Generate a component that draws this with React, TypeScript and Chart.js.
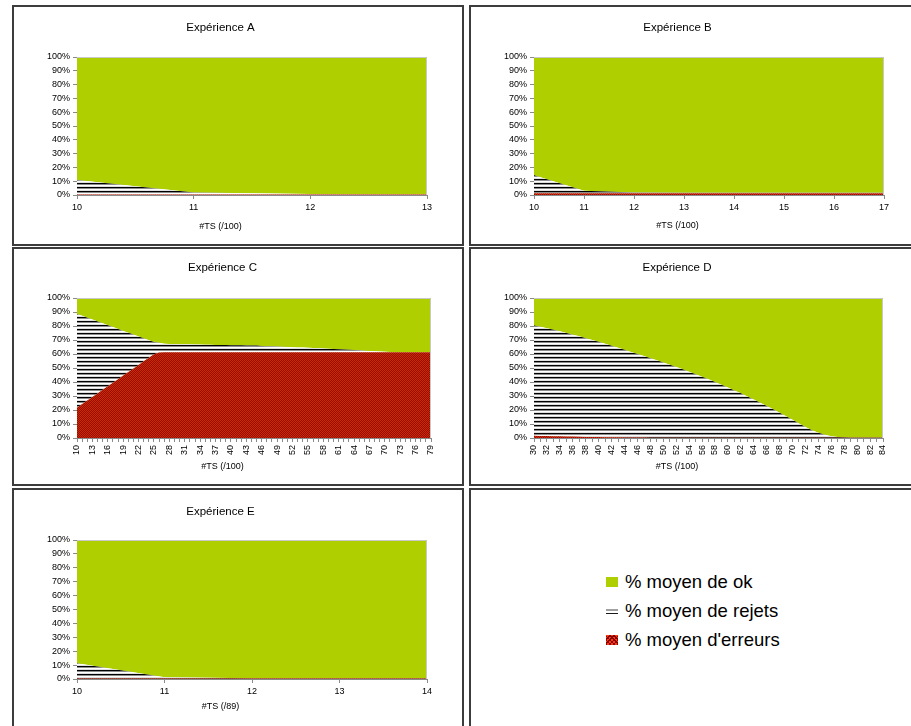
import React, { useEffect, useRef } from 'react';
import { Chart, registerables } from 'chart.js';

Chart.register(...registerables);

const FONT = '"Liberation Sans", Arial, Helvetica, sans-serif';
const OK_COLOR = '#afcf00';
const AXIS_GREY = '#8a8a8a';

const seriesLabels = ['% moyen de ok', '% moyen de rejets', "% moyen d'erreurs"];

// ---- Expérience A ----
const catsA = [10, 11, 12, 13];
const rejetsA = [10.5, 1.5, 0.4, 0.2];
const erreursA = [0.3, 0.3, 0.3, 0.3];

// ---- Expérience B ----
const catsB = [10, 11, 12, 13, 14, 15, 16, 17];
const rejetsB = [13.0, 1.8, 0.6, 0.4, 0.4, 0.4, 0.4, 0.4];
const erreursB = [1.3, 1.3, 1.3, 1.3, 1.3, 1.3, 1.3, 1.3];

// ---- Expérience C ----
const catsC = [
  10, 11, 12, 13, 14, 15, 16, 17, 18, 19,
  20, 21, 22, 23, 24, 25, 26, 27, 28, 29,
  30, 31, 32, 33, 34, 35, 36, 37, 38, 39,
  40, 41, 42, 43, 44, 45, 46, 47, 48, 49,
  50, 51, 52, 53, 54, 55, 56, 57, 58, 59,
  60, 61, 62, 63, 64, 65, 66, 67, 68, 69,
  70, 71, 72, 73, 74, 75, 76, 77, 78, 79,
];
const rejetsC = [
  67.0, 63.1, 59.2, 55.3, 51.4, 47.5, 43.7, 39.7, 35.9, 31.9,
  28.1, 24.2, 20.3, 16.4, 12.5, 8.8, 7.0, 6.1, 5.9, 5.8,
  5.7, 5.6, 5.6, 5.5, 5.4, 5.3, 5.3, 5.2, 5.1, 5.1,
  5.0, 4.9, 4.9, 4.8, 4.7, 4.7, 4.5, 4.3, 4.2, 4.0,
  3.9, 3.7, 3.6, 3.4, 3.3, 3.2, 3.0, 2.9, 2.7, 2.5,
  2.3, 2.1, 1.9, 1.7, 1.5, 1.3, 1.1, 0.9, 0.7, 0.5,
  0.3, 0.1, 0, 0, 0, 0, 0, 0, 0, 0,
];
const erreursC = [
  21.6, 24.2, 26.7, 29.3, 31.8, 34.4, 36.9, 39.5, 42.0, 44.6,
  47.1, 49.7, 52.2, 54.8, 57.3, 59.8, 61.0, 61.3, 61.3, 61.3,
  61.3, 61.3, 61.3, 61.3, 61.3, 61.3, 61.3, 61.3, 61.3, 61.3,
  61.3, 61.3, 61.3, 61.3, 61.3, 61.3, 61.3, 61.3, 61.3, 61.3,
  61.3, 61.3, 61.3, 61.3, 61.3, 61.3, 61.3, 61.3, 61.3, 61.3,
  61.3, 61.3, 61.3, 61.3, 61.3, 61.3, 61.3, 61.3, 61.3, 61.3,
  61.3, 61.3, 61.3, 61.3, 61.3, 61.3, 61.3, 61.3, 61.3, 61.3,
];

// ---- Expérience D ----
const catsD = [
  30, 31, 32, 33, 34, 35, 36, 37, 38, 39,
  40, 41, 42, 43, 44, 45, 46, 47, 48, 49,
  50, 51, 52, 53, 54, 55, 56, 57, 58, 59,
  60, 61, 62, 63, 64, 65, 66, 67, 68, 69,
  70, 71, 72, 73, 74, 75, 76, 77, 78, 79,
  80, 81, 82, 83, 84,
];
const rejetsD = [
  78.7, 77.9, 77.0, 76.0, 75.0, 73.9, 72.8, 71.7, 70.5, 69.2,
  68.0, 66.7, 65.4, 64.0, 62.6, 61.1, 59.7, 58.2, 56.8, 55.3,
  53.8, 52.2, 50.6, 48.9, 47.2, 45.4, 43.6, 41.7, 39.8, 37.8,
  35.8, 33.8, 31.7, 29.5, 27.3, 25.0, 22.7, 20.3, 17.9, 15.4,
  12.8, 10.2, 7.7, 5.4, 3.5, 2.1, 1.1, 0.6, 0.3, 0.2,
  0.1, 0.1, 0.1, 0.1, 0.1,
];
const erreursD = [
  1.6, 1.5, 1.4, 1.3, 1.2, 1.1, 1.0, 0.9, 0.8, 0.8,
  0.7, 0.6, 0.5, 0.5, 0.4, 0.4, 0.3, 0.3, 0.2, 0.2,
  0.2, 0.2, 0.2, 0.2, 0.2, 0.2, 0.2, 0.2, 0.2, 0.2,
  0.2, 0.2, 0.2, 0.2, 0.2, 0.2, 0.2, 0.2, 0.2, 0.2,
  0.2, 0.2, 0.2, 0.2, 0.2, 0.2, 0.2, 0.2, 0.2, 0.2,
  0.2, 0.2, 0.2, 0.2, 0.2,
];

// ---- Expérience E ----
const catsE = [10, 11, 12, 13, 14];
const rejetsE = [11.0, 1.0, 0.3, 0.2, 0.2];
const erreursE = [0.3, 0.3, 0.3, 0.3, 0.3];

const yTicks = [0, 10, 20, 30, 40, 50, 60, 70, 80, 90, 100];

type Spec = {
  title: string;
  axisTitle: string;
  cats: number[];
  rejets: number[];
  erreurs: number[];
  labelStep: number;
  rotate: number;
  box: { left: number; top: number; width: number; height: number };
  plotLeft: number;
  plotRight: number;
  plotTop: number;
  plotBottom: number;
  titleY: number;
  axisTitleY: number;
};

const BORDER = 2;

const specs: Spec[] = [
  {
    title: 'Expérience A', axisTitle: '#TS (/100)', cats: catsA, rejets: rejetsA, erreurs: erreursA,
    labelStep: 1, rotate: 0, box: { left: 12, top: 5, width: 452, height: 241 },
    plotLeft: 63, plotRight: 413, plotTop: 50, plotBottom: 188, titleY: 20.5, axisTitleY: 220,
  },
  {
    title: 'Expérience B', axisTitle: '#TS (/100)', cats: catsB, rejets: rejetsB, erreurs: erreursB,
    labelStep: 1, rotate: 0, box: { left: 469, top: 5, width: 452, height: 241 },
    plotLeft: 63, plotRight: 413, plotTop: 50, plotBottom: 188, titleY: 20.5, axisTitleY: 219,
  },
  {
    title: 'Expérience C', axisTitle: '#TS (/100)', cats: catsC, rejets: rejetsC, erreurs: erreursC,
    labelStep: 3, rotate: 90, box: { left: 12, top: 247, width: 452, height: 239 },
    plotLeft: 63, plotRight: 417, plotTop: 49, plotBottom: 189, titleY: 19, axisTitleY: 218,
  },
  {
    title: 'Expérience D', axisTitle: '#TS (/100)', cats: catsD, rejets: rejetsD, erreurs: erreursD,
    labelStep: 2, rotate: 90, box: { left: 469, top: 247, width: 452, height: 239 },
    plotLeft: 63, plotRight: 412, plotTop: 49, plotBottom: 189, titleY: 19, axisTitleY: 218,
  },
  {
    title: 'Expérience E', axisTitle: '#TS (/89)', cats: catsE, rejets: rejetsE, erreurs: erreursE,
    labelStep: 1, rotate: 0, box: { left: 12, top: 488, width: 452, height: 250 },
    plotLeft: 63, plotRight: 413, plotTop: 50, plotBottom: 189, titleY: 21.5, axisTitleY: 217,
  },
];

function makeStripePattern(ctx: CanvasRenderingContext2D): CanvasPattern | string {
  const c = document.createElement('canvas');
  c.width = 4;
  c.height = 4;
  const g = c.getContext('2d')!;
  const rows = ['#000000', '#8c8c8c', '#ffffff', '#e0e0e0'];
  rows.forEach((col, i) => {
    g.fillStyle = col;
    g.fillRect(0, i, 4, 1);
  });
  return ctx.createPattern(c, 'repeat') || '#888';
}

function makeRedPattern(ctx: CanvasRenderingContext2D): CanvasPattern | string {
  const c = document.createElement('canvas');
  c.width = 2;
  c.height = 2;
  const g = c.getContext('2d')!;
  g.fillStyle = '#d42800';
  g.fillRect(0, 0, 2, 2);
  g.fillStyle = '#8e0e00';
  g.fillRect(0, 0, 1, 1);
  g.fillRect(1, 1, 1, 1);
  return ctx.createPattern(c, 'repeat') || '#b01800';
}

const plotBorderPlugin = {
  id: 'plotBorder',
  afterDatasetsDraw(chart: any) {
    const { ctx, chartArea } = chart;
    ctx.save();
    ctx.strokeStyle = '#c8c8c8';
    ctx.lineWidth = 1;
    ctx.beginPath();
    ctx.moveTo(chartArea.left, chartArea.top + 0.5);
    ctx.lineTo(chartArea.right - 0.5, chartArea.top + 0.5);
    ctx.lineTo(chartArea.right - 0.5, chartArea.bottom);
    ctx.stroke();
    ctx.restore();
  },
};

const TITLE_SIZE = 11.5;
const AXIS_TITLE_SIZE = 9;
const TICK_SIZE = 9;

function ChartPanel({ spec }: { spec: Spec }) {
  const ref = useRef<HTMLCanvasElement>(null);
  const W = spec.box.width - 2 * BORDER;
  const H = spec.box.height - 2 * BORDER;

  useEffect(() => {
    const canvas = ref.current!;
    const ctx = canvas.getContext('2d')!;
    const stripes = makeStripePattern(ctx);
    const red = makeRedPattern(ctx);
    const ok = spec.cats.map((_, i) => 100 - spec.rejets[i] - spec.erreurs[i]);

    const lhT = TITLE_SIZE * 1.2;
    const lhA = AXIS_TITLE_SIZE * 1.2;
    const titlePadTop = spec.titleY - lhT / 2;
    const titlePadBottom = spec.plotTop - titlePadTop - lhT;
    const subPadBottom = H - spec.axisTitleY - lhA / 2;
    const subH = subPadBottom + lhA;
    const xAxisH = H - spec.plotBottom - subH;

    const common = { borderWidth: 0, borderColor: 'rgba(0,0,0,0)', pointRadius: 0, pointHoverRadius: 0, tension: 0 };

    const chart = new Chart(canvas, {
      type: 'line',
      data: {
        labels: spec.cats,
        datasets: [
          { label: seriesLabels[2], data: spec.erreurs, backgroundColor: red as any, fill: 'origin', ...common },
          { label: seriesLabels[1], data: spec.rejets, backgroundColor: stripes as any, fill: '-1', ...common },
          { label: seriesLabels[0], data: ok, backgroundColor: OK_COLOR, fill: '-1', ...common },
        ],
      },
      options: {
        animation: false,
        responsive: false,
        devicePixelRatio: 1,
        events: [],
        layout: { padding: { left: 0, right: W - spec.plotRight, top: 0, bottom: 0 } },
        plugins: {
          legend: { display: false },
          tooltip: { enabled: false },
          title: {
            display: true,
            text: spec.title,
            color: '#000',
            font: { family: FONT, size: TITLE_SIZE, weight: 'normal', lineHeight: 1.2 },
            padding: { top: titlePadTop, bottom: titlePadBottom },
          },
          subtitle: {
            display: true,
            position: 'bottom',
            text: spec.axisTitle,
            color: '#000',
            font: { family: FONT, size: AXIS_TITLE_SIZE, weight: 'normal', lineHeight: 1.2 },
            padding: { top: 0, bottom: subPadBottom },
          },
        },
        scales: {
          x: {
            type: 'category',
            offset: false,
            grid: { drawOnChartArea: false, drawTicks: true, tickLength: 4, color: AXIS_GREY },
            border: { display: true, color: AXIS_GREY },
            ticks: {
              autoSkip: false,
              maxRotation: spec.rotate,
              minRotation: spec.rotate,
              padding: 3,
              color: '#000',
              font: { family: FONT, size: TICK_SIZE },
              callback: (_v: any, i: number) => (i % spec.labelStep === 0 ? String(spec.cats[i]) : ''),
            },
            afterFit: (s: any) => {
              s.height = xAxisH;
            },
          },
          y: {
            stacked: true,
            min: 0,
            max: 100,
            grid: { drawOnChartArea: false, drawTicks: true, tickLength: 4, color: AXIS_GREY },
            border: { display: true, color: AXIS_GREY },
            afterBuildTicks: (s: any) => {
              s.ticks = yTicks.map((v) => ({ value: v }));
            },
            ticks: {
              padding: 3,
              color: '#000',
              font: { family: FONT, size: TICK_SIZE },
              callback: (v: any) => `${v}%`,
            },
            afterFit: (s: any) => {
              s.width = spec.plotLeft;
            },
          },
        },
      } as any,
      plugins: [plotBorderPlugin],
    });
    return () => chart.destroy();
  }, [spec, W, H]);

  return (
    <div
      style={{
        position: 'absolute',
        left: spec.box.left,
        top: spec.box.top,
        width: spec.box.width,
        height: spec.box.height,
        border: `${BORDER}px solid #3c3c3c`,
        boxSizing: 'border-box',
        background: '#fff',
        overflow: 'hidden',
      }}
    >
      <canvas ref={ref} width={W} height={H} style={{ display: 'block', width: W, height: H }} />
    </div>
  );
}

const legendItemStyle: React.CSSProperties = {
  position: 'absolute',
  left: 0,
  display: 'flex',
  alignItems: 'center',
  whiteSpace: 'nowrap',
  fontFamily: FONT,
  fontSize: 18.5,
  color: '#000',
};

function Legend() {
  const box = { left: 469, top: 488, width: 452, height: 250 };
  const iconBase: React.CSSProperties = { width: 12, height: 10, marginRight: 7, flex: '0 0 auto' };
  const items = [
    { label: seriesLabels[0], y: 92, icon: { ...iconBase, background: OK_COLOR } },
    {
      label: seriesLabels[1],
      y: 121,
      icon: {
        ...iconBase,
        background:
          'linear-gradient(to bottom, #fff 0px, #fff 3px, #a0a0a0 3px, #a0a0a0 5px, #fff 5px, #fff 7px, #1a1a1a 7px, #1a1a1a 8px, #fff 8px)',
      },
    },
    {
      label: seriesLabels[2],
      y: 150,
      icon: {
        ...iconBase,
        backgroundColor: '#ff3a12',
        backgroundImage:
          'repeating-linear-gradient(45deg, rgba(120,0,0,0.9) 0px, rgba(120,0,0,0.9) 1px, transparent 1px, transparent 3px), repeating-linear-gradient(-45deg, rgba(120,0,0,0.9) 0px, rgba(120,0,0,0.9) 1px, transparent 1px, transparent 3px)',
      },
    },
  ];
  return (
    <div
      style={{
        position: 'absolute',
        left: box.left,
        top: box.top,
        width: box.width,
        height: box.height,
        border: `${BORDER}px solid #3c3c3c`,
        boxSizing: 'border-box',
        background: '#fff',
      }}
    >
      {items.map((it) => (
        <div key={it.label} style={{ ...legendItemStyle, left: 606 - box.left - BORDER, top: it.y - 11 }}>
          <div style={it.icon} />
          <span style={{ lineHeight: '22px' }}>{it.label}</span>
        </div>
      ))}
    </div>
  );
}

export default function App() {
  return (
    <div
      style={{
        position: 'fixed',
        left: 0,
        top: 0,
        width: 911,
        height: 726,
        overflow: 'hidden',
        background: '#fff',
      }}
    >
      {specs.map((s) => (
        <ChartPanel key={s.title} spec={s} />
      ))}
      <Legend />
    </div>
  );
}
